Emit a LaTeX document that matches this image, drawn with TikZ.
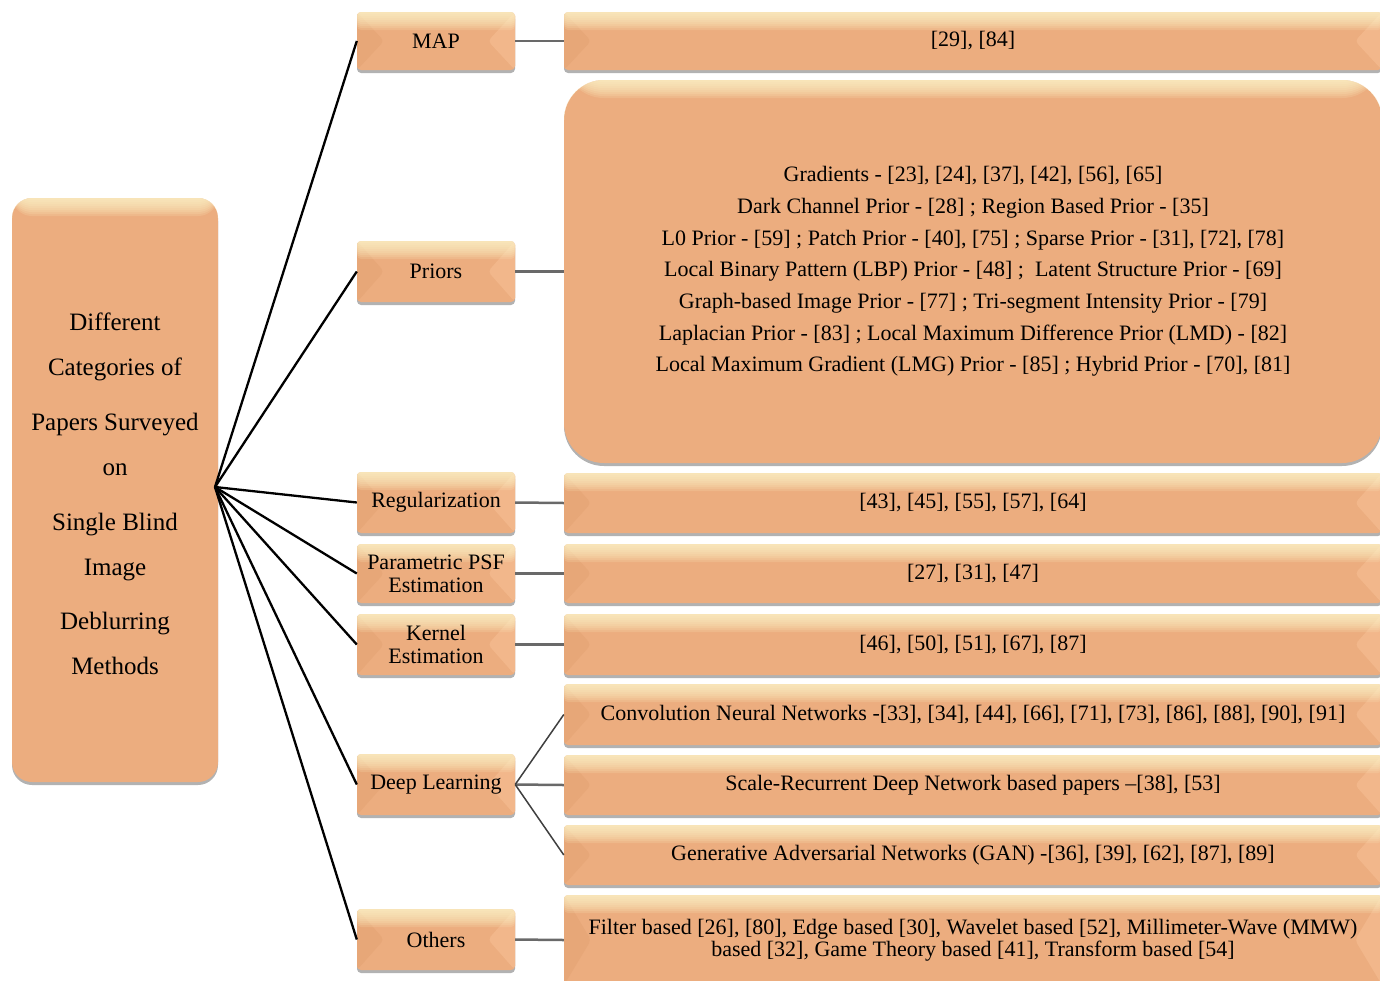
\documentclass[tikz,border=0pt]{standalone}
\usepackage{fontspec}
\setmainfont{Liberation Serif}
\usetikzlibrary{shadows,calc}
\definecolor{peach}{RGB}{236,173,127}
\definecolor{peachhl}{RGB}{255,248,205}
\definecolor{bevl}{RGB}{231,167,120}
\definecolor{bevr}{RGB}{242,183,139}
\definecolor{conn}{RGB}{105,105,105}
\tikzset{
  basebox/.style={fill=peach, inner sep=0pt, align=center, text=black,
    drop shadow={shadow xshift=0pt, shadow yshift=-3pt, opacity=.3, fill=black}},
  hlstrips/.code={%
    \foreach \k in {1,...,9}
      \fill[peachhl, fill opacity=0.15] (path picture bounding box.north west) rectangle ([yshift=-\k*2pt]path picture bounding box.north east);},
  hilite/.style={path picture={\tikzset{hlstrips}}},
  barbox/.style={basebox, rounded corners=4pt, font=\fontsize{22}{23}\selectfont,
    path picture={
      \fill[bevl] (path picture bounding box.north west) -- ($(path picture bounding box.west)+(27pt,0)$) -- (path picture bounding box.south west) -- cycle;
      \fill[bevr] (path picture bounding box.north east) -- ($(path picture bounding box.east)+(-27pt,0)$) -- (path picture bounding box.south east) -- cycle;
      \tikzset{hlstrips}}},
  midbox/.style={barbox, minimum width=158pt},
  refbox/.style={barbox, minimum width=818pt},
  hubline/.style={draw=black, line width=2.3pt},
  linkline/.style={draw=conn, line width=2.5pt},
  dlline/.style={draw=black!75, line width=1.5pt},
}
\begin{document}
\begin{tikzpicture}[x=1pt,y=-1pt]
\useasboundingbox (0,0) rectangle (1380,980);
\fill[white] (0,0) rectangle (1380,980);

% root
\node[basebox, hilite, rounded corners=20pt, minimum width=206pt, minimum height=584pt] (root) at (115,490) {};
\node[font=\fontsize{25}{45}\selectfont, align=center, inner sep=0pt] (roottext) at (115,494)
  {Different\\Categories of\\[10pt]Papers Surveyed\\on\\[10pt]Single Blind\\Image\\[9pt]Deblurring\\Methods};
\coordinate (hub) at (215,487);

% middle boxes
\node[midbox, minimum height=58pt] (map) at (436,41) {MAP};
\node[midbox, minimum height=61pt] (pri) at (436,271.5) {Priors};
\node[midbox, minimum height=61pt] (reg) at (436,502.5) {Regularization};
\node[midbox, minimum height=59pt] (psf) at (436,573.5) {Parametric PSF\\Estimation};
\node[midbox, minimum height=61pt] (ker) at (436,644.5) {Kernel\\Estimation};
\node[midbox, minimum height=61pt] (dl) at (436,784.5) {Deep Learning};
\node[midbox, minimum height=61pt] (oth) at (436,939.5) {Others};

% reference boxes
\node[refbox, minimum height=58pt] (rmap) at (973,41) {[29], [84]};
\node[basebox, hilite, rounded corners=40pt, minimum width=818pt, minimum height=383pt,
      font=\fontsize{22}{31.7}\selectfont] (rpri) at (973,271.5)
  {Gradients - [23], [24], [37], [42], [56], [65]\\
   Dark Channel Prior - [28] ; Region Based Prior - [35]\\
   L0 Prior - [59] ; Patch Prior - [40], [75] ; Sparse Prior - [31], [72], [78]\\
   Local Binary Pattern (LBP) Prior - [48] ;\ \ Latent Structure Prior - [69]\\
   Graph-based Image Prior - [77] ; Tri-segment Intensity Prior - [79]\\
   Laplacian Prior - [83] ; Local Maximum Difference Prior (LMD) - [82]\\
   Local Maximum Gradient (LMG) Prior - [85] ; Hybrid Prior - [70], [81]};
\node[refbox, minimum height=60pt] (rreg) at (973,503) {[43], [45], [55], [57], [64]};
\node[refbox, minimum height=59pt] (rpsf) at (973,573.5) {[27], [31], [47]};
\node[refbox, minimum height=61pt] (rker) at (973,644.5) {[46], [50], [51], [67], [87]};
\node[refbox, minimum height=61pt] (rcnn) at (973,714.5) {Convolution Neural Networks -[33], [34], [44], [66], [71], [73], [86], [88], [90], [91]};
\node[refbox, minimum height=60pt] (rsr) at (973,785) {Scale-Recurrent Deep Network based papers --[38], [53]};
\node[refbox, minimum height=60pt] (rgan) at (973,855) {Generative Adversarial Networks (GAN) -[36], [39], [62], [87], [89]};
\node[refbox, minimum height=90pt, font=\fontsize{22}{22}\selectfont] (roth) at (973,940)
  {Filter based [26], [80], Edge based [30], Wavelet based [52], Millimeter-Wave (MMW)\\based [32], Game Theory based [41], Transform based [54]};

% connectors
\foreach \n in {map,pri,reg,psf,ker,dl,oth}
  \draw[hubline] (hub) -- (\n.west);
\draw[linkline] (map.east) -- (rmap.west);
\draw[linkline] (pri.east) -- (rpri.west);
\draw[linkline] (reg.east) -- (rreg.west);
\draw[linkline] (psf.east) -- (rpsf.west);
\draw[linkline] (ker.east) -- (rker.west);
\draw[linkline] (dl.east) -- (rsr.west);
\draw[linkline] (oth.east) -- (roth.west);
\draw[dlline] (dl.east) -- (rcnn.west);
\draw[dlline] (dl.east) -- (rgan.west);
\end{tikzpicture}
\end{document}
